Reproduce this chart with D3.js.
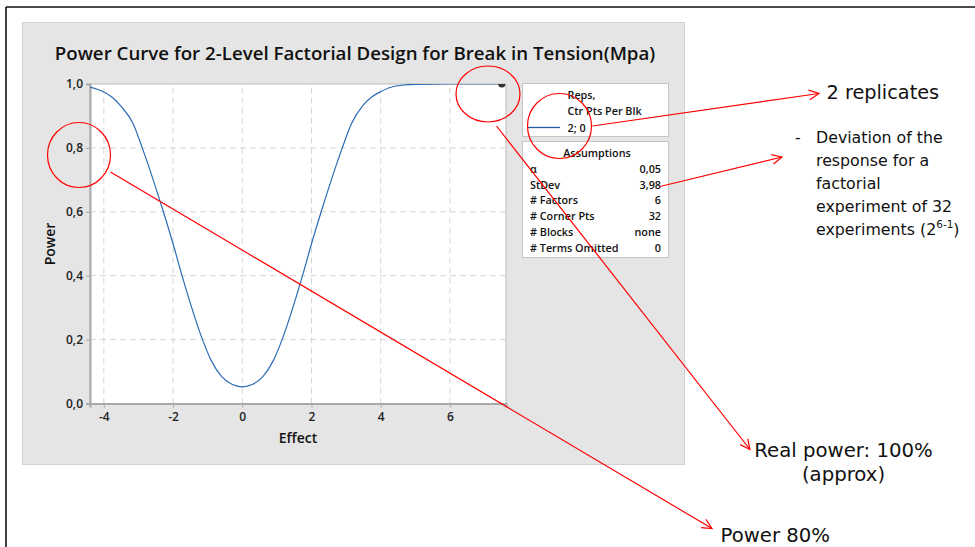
<!DOCTYPE html>
<html>
<head>
<meta charset="utf-8">
<script src="https://cdn.jsdelivr.net/npm/d3@7"></script>
<style>
  html, body { margin: 0; padding: 0; background: #ffffff; }
  svg { display: block; }
</style>
</head>
<body>
<script>
// ---------- data ----------
const effects = [-4.4, -4.0, -3.75, -3.5, -3.16, -2.89, -2.28, -2.0, -1.74, -1.15, -0.9, -0.6, -0.3, 0.0,
                 0.3, 0.6, 0.9, 1.15, 1.74, 2.0, 2.28, 2.89, 3.16, 3.5, 3.75, 4.0, 4.4, 5.0, 6.0, 7.5];
const powers  = [0.990, 0.975, 0.958, 0.930, 0.877, 0.800, 0.600, 0.500, 0.400, 0.200, 0.135, 0.085, 0.060, 0.052,
                 0.060, 0.085, 0.135, 0.200, 0.400, 0.500, 0.600, 0.800, 0.877, 0.935, 0.960, 0.976, 0.993, 0.999, 1.0, 1.0];
const designPoint = [{effect: 7.5, power: 1.0}];
const xTicks = [-4, -2, 0, 2, 4, 6];
const yTicks = [0, 0.2, 0.4, 0.6, 0.8, 1.0];
const titleText = "Power Curve for 2-Level Factorial Design for Break in Tension(Mpa)";
const xLabel = "Effect";
const yLabel = "Power";
const legendHeader = ["Reps,", "Ctr Pts Per Blk"];
const legendEntry = "2; 0";
const assumptionLabels = ["\u03B1", "StDev", "# Factors", "# Corner Pts", "# Blocks", "# Terms Omitted"];
const assumptionValues = ["0,05", "3,98", "6", "32", "none", "0"];

// ---------- setup ----------
const W = 975, H = 547;
const svg = d3.select("body").append("svg").attr("width", W).attr("height", H);
const chartFont = "'Open Sans', 'Noto Sans', sans-serif";
const noteFont = "'DejaVu Sans', Verdana, sans-serif";
const red = "#ff0000";

// outer black frame (top and left)
svg.append("line").attr("x1", 6).attr("y1", 7).attr("x2", W).attr("y2", 7)
  .attr("stroke", "#111").attr("stroke-width", 1.6);
svg.append("line").attr("x1", 6).attr("y1", 7).attr("x2", 6).attr("y2", H)
  .attr("stroke", "#111").attr("stroke-width", 1.6);

// grey panel
svg.append("rect").attr("x", 22.5).attr("y", 22.5).attr("width", 662).attr("height", 442)
  .attr("fill", "#e5e5e5").attr("stroke", "#d2d2d2").attr("stroke-width", 1);

// title
svg.append("text").attr("x", 355).attr("y", 59.5).attr("text-anchor", "middle")
  .attr("font-family", chartFont).attr("font-size", 18.7).attr("font-weight", 600)
  .attr("fill", "#111").text(titleText);

// scales
const x = d3.scaleLinear().domain([-4.4, 7.62]).range([90, 506]);
const y = d3.scaleLinear().domain([0, 1]).range([403.5, 84]);

// plot background
svg.append("rect").attr("x", 90).attr("y", 84).attr("width", 416).attr("height", 319.5)
  .attr("fill", "#ffffff").attr("stroke", "#bdbdbd").attr("stroke-width", 1);

// grid
const grid = svg.append("g").attr("stroke", "#d6d6d6").attr("stroke-width", 1).attr("stroke-dasharray", "6,4");
grid.selectAll(".vx").data(xTicks).join("line")
  .attr("x1", d => x(d)).attr("x2", d => x(d)).attr("y1", y(0)).attr("y2", y(1));
grid.selectAll(".hy").data(yTicks.filter(d => d > 0 && d < 1)).join("line")
  .attr("x1", x.range()[0]).attr("x2", x.range()[1]).attr("y1", d => y(d)).attr("y2", d => y(d));

// axes
const fmt = d => d3.format(".1f")(d).replace(".", ",");
const yAxis = svg.append("g").attr("transform", `translate(90,0)`)
  .call(d3.axisLeft(y).tickValues(yTicks).tickFormat(fmt).tickSize(4).tickPadding(3));
const xAxis = svg.append("g").attr("transform", `translate(0,${y(0)})`)
  .call(d3.axisBottom(x).tickValues(xTicks).tickFormat(d3.format("d")).tickSize(4).tickPadding(5));
[yAxis, xAxis].forEach(a => {
  a.select(".domain").attr("stroke", "#a9a9a9").attr("stroke-width", 2);
  a.selectAll(".tick line").attr("stroke", "#a9a9a9");
  a.selectAll(".tick text").attr("font-family", chartFont).attr("font-size", 12)
    .attr("font-weight", 600).attr("fill", "#222");
});
xAxis.selectAll(".tick text").text(d => d < 0 ? "-" + Math.abs(d) : d);

// axis labels
svg.append("text").attr("x", 298).attr("y", 443).attr("text-anchor", "middle")
  .attr("font-family", chartFont).attr("font-size", 14).attr("font-weight", 600).attr("fill", "#111").text(xLabel);
svg.append("text").attr("transform", "translate(55,244) rotate(-90)").attr("text-anchor", "middle")
  .attr("font-family", chartFont).attr("font-size", 14).attr("font-weight", 600).attr("fill", "#111").text(yLabel);

// clip
svg.append("clipPath").attr("id", "plotclip").append("rect")
  .attr("x", 90).attr("y", 84).attr("width", 416).attr("height", 319.5);

// curve
const pts = effects.map((e, i) => ({effect: e, power: powers[i]}));
svg.append("path").datum(pts)
  .attr("clip-path", "url(#plotclip)")
  .attr("fill", "none").attr("stroke", "#2b6cb5").attr("stroke-width", 1.2)
  .attr("d", d3.line().x(d => x(d.effect)).y(d => y(d.power)).curve(d3.curveMonotoneX));

// design point marker
svg.append("g").attr("clip-path", "url(#plotclip)").selectAll("circle").data(designPoint).join("circle")
  .attr("cx", d => x(d.effect)).attr("cy", d => y(d.power)).attr("r", 3.6).attr("fill", "#333");

// legend box
svg.append("rect").attr("x", 522.5).attr("y", 83.5).attr("width", 146).attr("height", 53)
  .attr("fill", "#ffffff").attr("stroke", "#c4c4c4");
legendHeader.forEach((t, i) => {
  svg.append("text").attr("x", 567.5).attr("y", 98.5 + i * 16.5)
    .attr("font-family", chartFont).attr("font-size", 10.8).attr("font-weight", 600).attr("fill", "#111").text(t);
});
svg.append("line").attr("x1", 528).attr("x2", 560).attr("y1", 127.5).attr("y2", 127.5)
  .attr("stroke", "#1f5aa6").attr("stroke-width", 1.3);
svg.append("text").attr("x", 567.5).attr("y", 131.5)
  .attr("font-family", chartFont).attr("font-size", 10.8).attr("font-weight", 600).attr("fill", "#111").text(legendEntry);

// assumptions box
svg.append("rect").attr("x", 522.5).attr("y", 141.5).attr("width", 146).attr("height", 116)
  .attr("fill", "#ffffff").attr("stroke", "#c4c4c4");
svg.append("text").attr("x", 597).attr("y", 156.5).attr("text-anchor", "middle")
  .attr("font-family", chartFont).attr("font-size", 10.8).attr("font-weight", 600).attr("fill", "#111").text("Assumptions");
assumptionLabels.forEach((t, i) => {
  const yy = 172.8 + i * 15.8;
  svg.append("text").attr("x", 530).attr("y", yy)
    .attr("font-family", chartFont).attr("font-size", 10.8).attr("font-weight", 600).attr("fill", "#111").text(t);
  svg.append("text").attr("x", 661).attr("y", yy).attr("text-anchor", "end")
    .attr("font-family", chartFont).attr("font-size", 10.8).attr("font-weight", 600).attr("fill", "#111").text(assumptionValues[i]);
});

// ---------- red annotations ----------
const ann = svg.append("g").attr("fill", "none").attr("stroke", red).attr("stroke-width", 1.2);
ann.append("ellipse").attr("cx", 79).attr("cy", 155).attr("rx", 31.5).attr("ry", 32.5);
ann.append("ellipse").attr("cx", 488).attr("cy", 94).attr("rx", 32).attr("ry", 28);
ann.append("ellipse").attr("cx", 559.5).attr("cy", 126).attr("rx", 32).attr("ry", 32.5);

function arrow(x1, y1, x2, y2) {
  ann.append("line").attr("x1", x1).attr("y1", y1).attr("x2", x2).attr("y2", y2);
  const a = Math.atan2(y2 - y1, x2 - x1), L = 11, s = 0.45;
  ann.append("polyline").attr("points", [
    [x2 - L * Math.cos(a - s), y2 - L * Math.sin(a - s)],
    [x2, y2],
    [x2 - L * Math.cos(a + s), y2 - L * Math.sin(a + s)]
  ].map(p => p.join(",")).join(" "));
}
arrow(110.5, 172, 712, 528.5);
arrow(496.5, 126, 750, 449.5);
arrow(592.5, 126, 819, 93.5);
arrow(660, 186.5, 782, 157);

// ---------- annotation texts ----------
const note = (xx, yy, size, t, anchor) => svg.append("text").attr("x", xx).attr("y", yy)
  .attr("text-anchor", anchor || "start").attr("font-family", noteFont).attr("font-size", size)
  .attr("fill", "#111").text(t);

note(826.5, 99, 19.3, "2 replicates");
note(795, 143, 15.8, "-");
note(816, 143, 15.8, "Deviation of the");
note(816, 165.5, 15.8, "response for a");
note(816, 188.5, 15.8, "factorial");
note(816, 211.5, 15.8, "experiment of 32");
const last = note(816, 234.5, 15.8, "experiments (2");
last.append("tspan").attr("font-size", 10.5).attr("dy", -6.5).text("6-1");
last.append("tspan").attr("dy", 6.5).text(")");

note(843.5, 457, 19.7, "Real power: 100%", "middle");
note(843.5, 480.5, 19.7, "(approx)", "middle");
note(720.5, 542, 19.7, "Power 80%");
</script>
</body>
</html>
